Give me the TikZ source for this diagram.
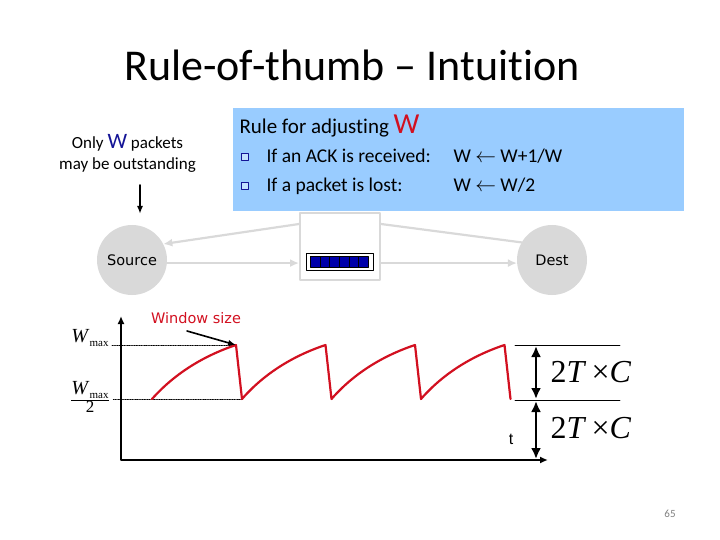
\documentclass[tikz,border=0pt]{standalone}
\usepackage{fontspec}
\setmainfont{Carlito}[Ligatures=NoCommon]
\newfontfamily\hostfont{DejaVu Sans}
\newfontfamily\timesfont{Liberation Serif}
\newfontfamily\arialfont{Liberation Sans}
\usetikzlibrary{arrows.meta}

\definecolor{ruleblue}{RGB}{153,204,255}
\definecolor{linkgray}{RGB}{217,217,217}
\definecolor{wred}{RGB}{210,16,32}
\definecolor{wblue}{RGB}{20,20,150}
\definecolor{cellblue}{RGB}{0,0,170}

\begin{document}
\begin{tikzpicture}[
    x=1pt,
    y=-1pt,
    line cap=round,
    line join=round,
    host/.style={
        circle,
        fill=linkgray,
        minimum size=70pt,
        inner sep=0pt,
        font=\hostfont\fontsize{14.5}{16}\selectfont
    },
    link/.style={
        draw=linkgray,
        line width=2.2pt
    },
    flow/.style={
        link,
        -{Latex[length=9pt,width=8pt]}
    },
    pointer/.style={
        line width=1.6pt,
        -{Latex[length=8pt,width=6pt]}
    },
    axis/.style={
        line width=2pt
    },
    saw/.style={
        wred,
        line width=2.2pt
    },
    level/.style={
        densely dotted,
        line width=0.7pt
    },
    span/.style={
        line width=2.6pt,
        {Latex[length=11pt,width=10pt]}-{Latex[length=11pt,width=10pt]}
    },
    bulletbox/.style={
        draw=wblue,
        fill=ruleblue!60!white,
        line width=0.9pt,
        minimum size=7pt,
        inner sep=0pt
    },
    cell/.style={
        fill=cellblue,
        draw=black,
        line width=0.6pt
    }
]

\useasboundingbox (0,0) rectangle (720,540);

% =================================================
% Title
% =================================================

\node[anchor=base, font=\fontsize{44}{48}\selectfont] (title) at (352,81)
    {Rule-of-thumb -- Intuition};

% =================================================
% Rule box
% =================================================

\node[fill=ruleblue, minimum width=451pt, minimum height=103pt] (rulebox) at (458.5,159.5) {};

\node[anchor=base west, font=\fontsize{21}{24}\selectfont] (rulehead) at (236,134)
    {Rule for adjusting {\color{wred}\fontsize{29}{30}\selectfont W}};

\node[bulletbox] (bul1) at (245,157) {};
\node[bulletbox] (bul2) at (245,186) {};

\node[anchor=base west, font=\fontsize{19.5}{22}\selectfont] (ack) at (263,163)
    {If an ACK is received:};
\node[anchor=base west, font=\fontsize{19.5}{22}\selectfont] (lost) at (263,192)
    {If a packet is lost:};
\node[anchor=base west, font=\fontsize{19.5}{22}\selectfont] (ackrule) at (450,163)
    {W $\leftarrow$ W+1/W};
\node[anchor=base west, font=\fontsize{19.5}{22}\selectfont] (lostrule) at (450,192)
    {W $\leftarrow$ W/2};

% =================================================
% Source, buffer and destination
% =================================================

\node[align=center, font=\fontsize{17}{21}\selectfont] (only) at (127.5,153)
    {Only {\color{wblue}\fontsize{22}{21}\selectfont W} packets\\ may be outstanding};

\coordinate (onlyout) at (140,185);
\coordinate (onlyin)  at (140,214);
\draw[pointer] (onlyout) -- (onlyin);

\node[host] (src) at (132,260) {Source};
\node[host] (dst) at (552,260) {Dest};

\node[draw=linkgray, line width=2pt, fill=white, minimum width=80pt, minimum height=67pt] (buf) at (340,246.5) {};
\node[draw=black, line width=0.8pt, fill=white, minimum width=67pt, minimum height=17pt] (queue) at (339.5,262) {};
\foreach \i in {0,...,5}
    \draw[cell] ({310.5+9.6*\i},256.5) rectangle ++(9.6,11);

\draw[flow] (src.-5) -- (src.-5 -| buf.west);
\draw[flow] (dst.185 -| buf.east) -- (dst.185);
\draw[link] (dst.150) -- ([yshift=-12pt]buf.north east);
\draw[flow] ([yshift=-12pt]buf.north west) -- (src.27);

% =================================================
% Window size plot
% =================================================

\coordinate (origin) at (121,460);
\coordinate (ytop)   at (121,316);
\coordinate (xend)   at (548,460);

\draw[axis, {Latex[length=8pt,width=7pt]}-{Latex[length=8pt,width=7pt]}] (ytop) -- (origin) -- (xend);

\node[font=\hostfont\fontsize{14.5}{16}\selectfont, text=wred] (wsize) at (196,318) {Window size};

\node[font=\timesfont] (wmax) at (90,338)
    {\fontsize{20}{22}\selectfont\textit{W}\lower4pt\hbox{\fontsize{11}{12}\selectfont max}};
\node[font=\timesfont] (whalf) at (90,397)
    {$\displaystyle\frac{\hbox{\fontsize{20}{22}\selectfont\textit{W}\lower4pt\hbox{\fontsize{11}{12}\selectfont max}}}{\hbox{\fontsize{17}{18}\selectfont 2}}$};

\coordinate (peak) at (236,345);
\draw[level] (wmax.east |- peak) -- (peak);
\draw[level] (whalf.east |- 0,399) -- (242,399);

\draw[saw] (152,399)
    \foreach \s in {152,241.5,331,420.5}{
        .. controls ({\s+24},372) and ({\s+54},355) .. ({\s+84},345) -- ({\s+90},399)
    };

\coordinate (tail) at (187,331);
\draw[pointer] (tail) -- (peak);

% =================================================
% 2T x C spans
% =================================================

\coordinate (hi)  at (515,345);
\coordinate (mid) at (515,400);
\draw[line width=0.8pt] (hi) -- ++(105,0);
\draw[line width=0.8pt] (mid) -- ++(105,0);

\draw[span] (536,346) -- (536,399);
\draw[span] (536,401) -- (536,459);

\node[font=\timesfont\fontsize{32}{34}\selectfont, anchor=west] (upper) at (547,372)
    {2\textit{T}\,×\textit{C}};
\node[font=\timesfont\fontsize{32}{34}\selectfont, anchor=west] (lower) at (547,428)
    {2\textit{T}\,×\textit{C}};

\node[font=\arialfont\fontsize{16}{18}\selectfont] (tlabel) at (511,439) {t};

\node[font=\fontsize{11}{12}\selectfont, text=gray] (page) at (670,514) {65};

\end{tikzpicture}
\end{document}
